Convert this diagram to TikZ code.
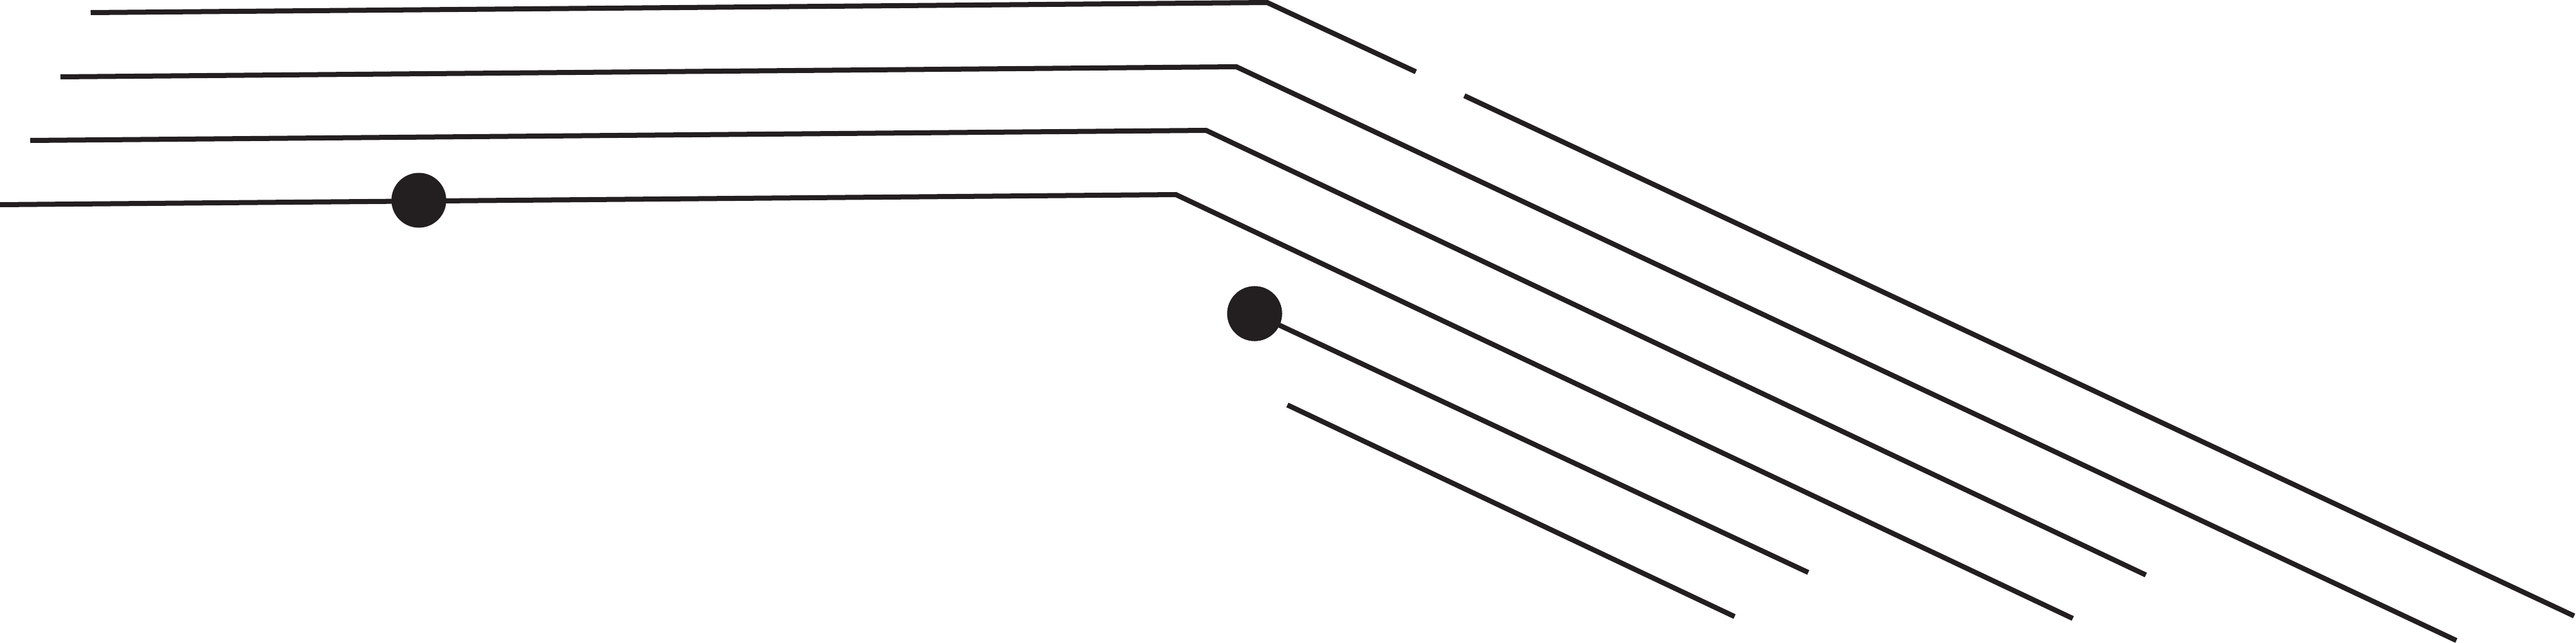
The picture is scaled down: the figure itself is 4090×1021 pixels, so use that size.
\documentclass[tikz,border=0pt]{standalone}
\begin{document}
\begin{tikzpicture}[x=0.01cm,y=-0.01cm,
  wire/.style={draw=ink,line width=0.08cm,line cap=butt,line join=miter},
  blob/.style={circle,fill=ink,draw=none,minimum size=0.87cm,inner sep=0pt}]
\definecolor{ink}{HTML}{231F20}
\useasboundingbox (0,0) rectangle (4090,1021);
% line 1 (top)
\coordinate (a1) at (144,20);
\coordinate (a2) at (2012,4);
\coordinate (a3) at (2248,114);
\coordinate (a4) at (2325,152);
\coordinate (a5) at (4087,978);
% line 2
\coordinate (b1) at (96,122);
\coordinate (b2) at (1963,106);
\coordinate (b3) at (3900,1017);
% line 3
\coordinate (c1) at (48,223);
\coordinate (c2) at (1915,207);
\coordinate (c3) at (3407,913);
% line 4
\coordinate (d1) at (0,325);
\coordinate (d2) at (1867,309);
\coordinate (d3) at (3291,982);
% line 5
\coordinate (e2) at (2871,909);
% line 6
\coordinate (f1) at (2044,643);
\coordinate (f2) at (2754,979);

\draw[wire] (a1) -- (a2) -- (a3);
\draw[wire] (a4) -- (a5);
\draw[wire] (b1) -- (b2) -- (b3);
\draw[wire] (c1) -- (c2) -- (c3);
\draw[wire] (d1) -- (d2) -- (d3);
\node[blob] (dot1) at (665,318) {};
\node[blob] (dot2) at (1992,498) {};
\draw[wire] (dot2.center) -- (e2);
\node[blob] at (dot2) {};
\draw[wire] (f1) -- (f2);
\end{tikzpicture}
\end{document}
